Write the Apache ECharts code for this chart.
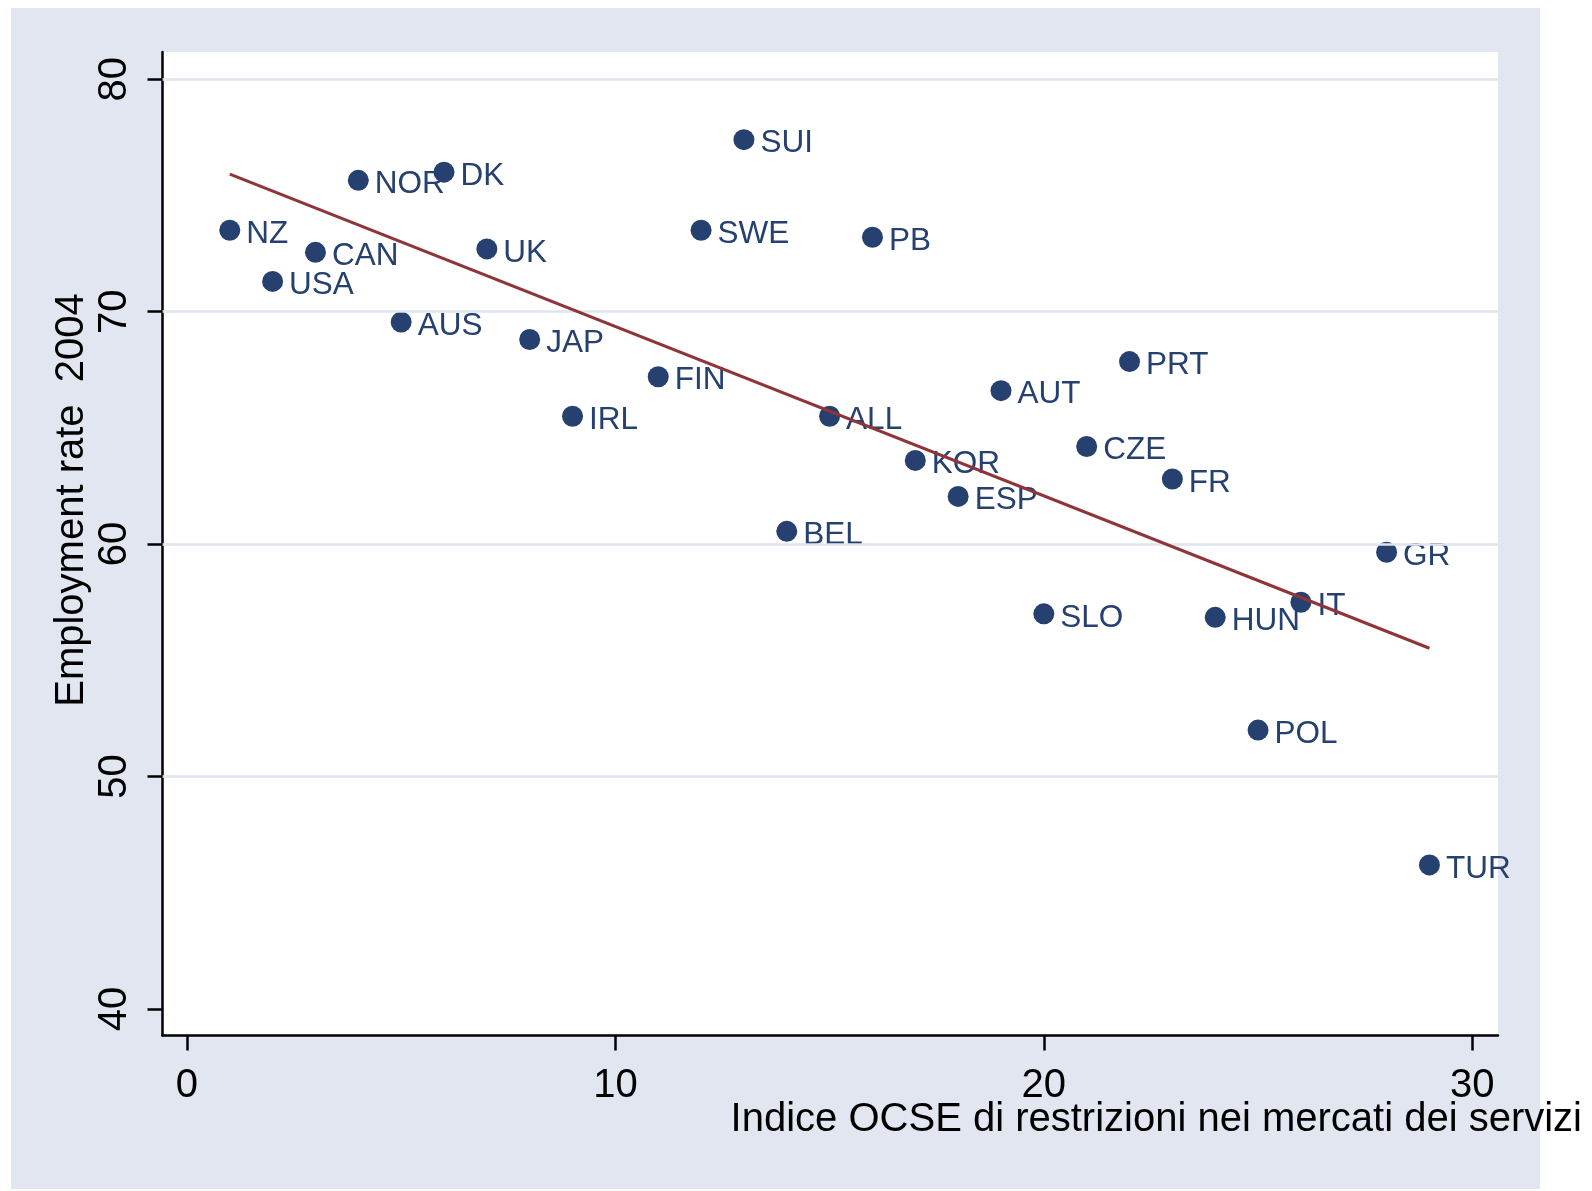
<!DOCTYPE html>
<html>
<head>
<meta charset="utf-8">
<script src="https://cdn.jsdelivr.net/npm/echarts@6/dist/echarts.min.js"></script>
<style>
  html, body { margin: 0; padding: 0; background: #fff; }
  #chart { width: 1592px; height: 1191px; }
</style>
</head>
<body>
<div id="chart"></div>
<script>
// country codes, OECD services restriction index (rank), employment rate 2004
const countries = ['NZ', 'USA', 'CAN', 'NOR', 'AUS', 'DK', 'UK', 'JAP', 'IRL', 'FIN', 'SWE', 'SUI',
  'BEL', 'ALL', 'PB', 'KOR', 'ESP', 'AUT', 'SLO', 'CZE', 'PRT', 'FR', 'HUN', 'POL', 'IT', 'GR', 'TUR']
const restrIndex = [1, 2, 3, 4, 5, 6, 7, 8, 9, 11, 12, 13,
  14, 15, 16, 17, 18, 19, 20, 21, 22, 23, 24, 25, 26, 28, 29]
const empRate = [73.5, 71.3, 72.55, 75.65, 69.55, 76.0, 72.7, 68.8, 65.5, 67.2, 73.5, 77.4,
  60.55, 65.5, 73.2, 63.6, 62.05, 66.6, 57.0, 64.2, 67.85, 62.8, 56.85, 52.0, 57.5, 59.65, 46.2]

// fitted line end points
const fitX = [1, 29]
const fitY = [75.92, 55.52]

const xTicks = [0, 10, 20, 30]
const yTicks = [40, 50, 60, 70, 80]
const yGridLines = [50, 60, 70, 80]

const navy = '#26406f'
const maroon = '#8f3439'
const font = '"Liberation Sans", Arial, sans-serif'

const chart = echarts.init(document.getElementById('chart'))

chart.setOption({
  animation: false,
  backgroundColor: '#fff',
  textStyle: { fontFamily: font },
  graphic: [
    {
      type: 'rect', z: -10,
      shape: { x: 11, y: 8, width: 1529, height: 1181 },
      style: { fill: '#e1e6f0' }
    },
    {
      type: 'text',
      x: 72, y: 500, rotation: Math.PI / 2,
      style: {
        text: 'Employment rate  2004', fill: '#000', font: '40px ' + font,
        textAlign: 'center', textVerticalAlign: 'middle'
      }
    },
    {
      type: 'text',
      x: 1582, y: 1120,
      style: {
        text: 'Indice OCSE di restrizioni nei mercati dei servizi', fill: '#000', font: '40px ' + font,
        textAlign: 'right', textVerticalAlign: 'middle'
      }
    }
  ],
  grid: {
    left: 162.5, right: 94, top: 52, bottom: 155.5,
    show: true, backgroundColor: '#fff', borderWidth: 0
  },
  xAxis: {
    type: 'value', min: -0.57, max: 30.6,
    axisLine: { onZero: false, lineStyle: { color: '#000', width: 2.5 } },
    axisTick: { show: true, length: 15, customValues: xTicks, lineStyle: { color: '#000', width: 2.5 } },
    axisLabel: { customValues: xTicks, fontSize: 40, color: '#000', margin: 30, fontFamily: font },
    splitLine: { show: false }
  },
  yAxis: {
    type: 'value', min: 38.86, max: 81.17,
    axisLine: { show: true, onZero: false, lineStyle: { color: '#000', width: 2.5 } },
    axisTick: { show: true, length: 15, customValues: yTicks, lineStyle: { color: '#000', width: 2.5 } },
    axisLabel: { customValues: yTicks, fontSize: 40, color: '#000', margin: 28, rotate: 90, fontFamily: font },
    splitLine: { show: false }
  },
  series: [
    {
      type: 'scatter',
      symbol: 'circle',
      symbolSize: 21,
      itemStyle: { color: navy, opacity: 1 },
      z: 3,
      label: {
        show: true, position: 'right', distance: 6, offset: [0, 4],
        formatter: p => p.data[2],
        fontSize: 31.5, color: navy, opacity: 1, fontFamily: font
      },
      data: restrIndex.map((x, i) => [x, empRate[i], countries[i]]),
      markLine: {
        silent: true, symbol: 'none', animation: false,
        label: { show: false },
        lineStyle: { color: '#dfe4ef', width: 2.5, type: 'solid' },
        data: yGridLines.map(v => ({ yAxis: v }))
      }
    },
    {
      type: 'line',
      showSymbol: false,
      symbol: 'none',
      z: 5,
      lineStyle: { color: maroon, width: 3 },
      data: fitX.map((x, i) => [x, fitY[i]])
    }
  ]
})
</script>
</body>
</html>
